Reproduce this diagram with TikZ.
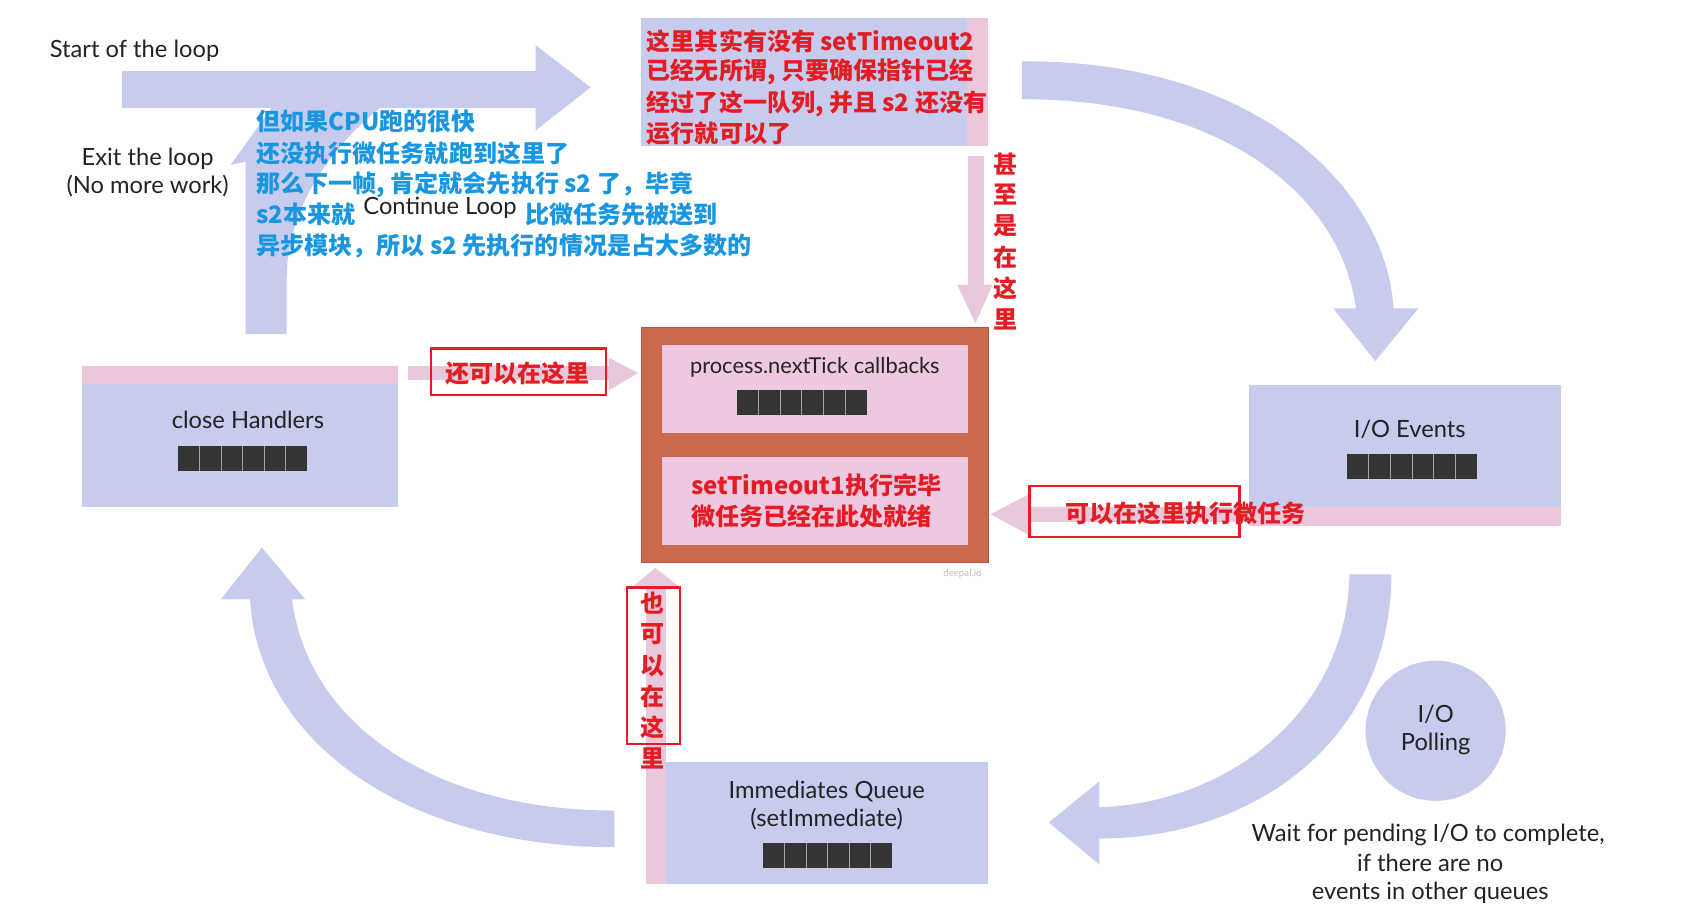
\documentclass[tikz,border=0pt]{standalone}
\usepackage{fontspec}
\setmainfont{Lato}
\newfontfamily\cjk{Noto Sans CJK SC}
\definecolor{lav}{RGB}{199,203,238}
\definecolor{pk}{RGB}{236,198,218}
\definecolor{pka}{RGB}{234,200,220}
\definecolor{orbox}{RGB}{204,104,78}
\definecolor{inpk}{RGB}{238,200,224}
\definecolor{redt}{RGB}{228,28,36}
\definecolor{bluet}{RGB}{25,150,225}
\definecolor{sqc}{RGB}{52,52,52}
\definecolor{txt}{RGB}{35,35,35}
\newcommand\sqrow[2]{%
  \fill[sqc] (#1,#2) rectangle ++(120,23);
  \foreach \i in {1,...,5} \draw[white!55!sqc, line width=0.8pt] (#1+\i*20,#2) -- ++(0,23);}
\begin{document}
\begin{tikzpicture}[x=1pt,y=-1pt,
  lbl/.style={font=\fontsize{22}{26}\selectfont, text=txt, inner sep=0},
  cjkr/.style={font=\cjk\bfseries\fontsize{22.3}{26}\selectfont, text=redt, inner sep=0, anchor=west},
  cjkb/.style={font=\cjk\bfseries\fontsize{22.3}{26}\selectfont, text=bluet, inner sep=0, anchor=west},
  cjkv/.style={font=\cjk\bfseries\fontsize{22.3}{26}\selectfont, text=redt, inner sep=0},
  redbox/.style={draw=redt, line width=2.2pt, inner sep=0},
  lavbox/.style={fill=lav, draw=none, inner sep=0},
  inbox/.style={fill=inpk, draw=none, inner sep=0}]
\useasboundingbox (0,0) rectangle (1568,838);
\fill[white] (0,0) rectangle (1568,838);

% ---- big lavender arrows ----
% continue loop arrow
\fill[lav] (228,310) -- (228,150) -- (214,153) -- (255,96) -- (358,96)
  .. controls (300,140) and (266,200) .. (266,258) -- (266,310) -- cycle;
% top arrow
\fill[lav] (113,66) -- (497,66) -- (497,42) -- (548,81) -- (497,121) -- (497,100) -- (113,100) -- cycle;
% top right curved arrow
\fill[lav] (948,57) .. controls (1160,55) and (1285,170) .. (1293,286) -- (1316,286) -- (1276,335)
  -- (1237,286) -- (1258,286) .. controls (1245,185) and (1140,92) .. (948,92) -- cycle;
% bottom right curved arrow
\fill[lav] (1291,533) .. controls (1290,690) and (1160,778) .. (1020,778) -- (1020,802) -- (973,763)
  -- (1020,725) -- (1020,749) .. controls (1140,745) and (1250,660) .. (1252,533) -- cycle;
% bottom left curved arrow
\fill[lav] (570,786) .. controls (380,786) and (240,690) .. (232,556) -- (205,556) -- (243,508)
  -- (283,556) -- (271,556) .. controls (285,670) and (400,752) .. (570,752) -- cycle;

% ---- boxes ----
\node[lavbox, minimum width=322, minimum height=118] (topbox) at (756,76) {};
\fill[pk] (897,17) rectangle (917,135);
\node[lavbox, minimum width=293, minimum height=130] (close) at (222.5,405) {};
\fill[pk] (76,340) rectangle (369,356);
\node[lavbox, minimum width=289, minimum height=131] (io) at (1303.5,422.5) {};
\fill[pk] (1159,470) rectangle (1448,488);
\node[lavbox, minimum width=317, minimum height=113] (imm) at (758.5,763.5) {};
\node[circle, fill=lav, minimum size=130, inner sep=0] (poll) at (1332,678) {};
\node[fill=orbox, draw=orbox!85!black, line width=0.6pt, minimum width=322, minimum height=218, inner sep=0] (micro) at (756,413) {};
\node[inbox, minimum width=284, minimum height=82] (tick) at (756,361) {};
\node[inbox, minimum width=284, minimum height=82] (st1) at (756,465) {};

% ---- pink arrows ----
\fill[pka] (898,145) rectangle (913,265);
\fill[pka] (888,264) -- (921,264) -- (905,300) -- cycle;
\fill[pka] (379,340) rectangle (565,353);
\fill[pka] (565,332) -- (592,346) -- (565,362) -- cycle;
\fill[pka] (1159,470) rectangle (954,484);
\fill[pka] (954,459) -- (919,477) -- (954,496) -- cycle;
\fill[pka] (599,545) rectangle (618,820);
\fill[pka] (586,545) -- (608,527) -- (631,545) -- cycle;

% ---- squares ----
\sqrow{165}{414}
\sqrow{684}{362}
\sqrow{1250}{421}
\sqrow{708}{782}

% ---- english labels ----
\node[lbl, anchor=west] (start) at (46,47) {Start of the loop};
\node[lbl] (exit1) at (137,147) {Exit the loop};
\node[lbl] (exit2) at (137,173) {(No more work)};
\node[lbl, anchor=west] (cont) at (337,193) {Continue Loop};
\node[lbl] (closet) at (230,390) {close Handlers};
\node[lbl] (iot) at (1308,398) {I/O Events};
\node[lbl, font=\fontsize{20.3}{24}\selectfont] (tickt) at (756,341) {process.nextTick callbacks};
\node[lbl] (imm1) at (767,734) {Immediates Queue};
\node[lbl] (imm2) at (767,760) {(setImmediate)};
\node[lbl] (poll1) at (1332,663) {I/O};
\node[lbl] (poll2) at (1332,690) {Polling};
\node[lbl] (w1) at (1325,775) {Wait for pending I/O to complete,};
\node[lbl] (w2) at (1327,801) {if there are no};
\node[lbl] (w3) at (1327,828) {events in other queues};
\node[font=\fontsize{9}{10}\selectfont, text=black!25, inner sep=0] (deepal) at (893,532) {deepal.io};

% ---- blue annotation ----
\node[cjkb] (b1) at (238,113) {但如果CPU跑的很快};
\node[cjkb] (b2) at (238,142) {还没执行微任务就跑到这里了};
\node[cjkb] (b3) at (238,171) {那么下一帧, 肯定就会先执行 s2 了，毕竟};
\node[cjkb] (b4) at (238,199) {s2本来就};
\node[cjkb] (b4b) at (487,199) {比微任务先被送到};
\node[cjkb] (b5) at (238,228) {异步模块，所以 s2 先执行的情况是占大多数的};

% ---- red annotations ----
\node[cjkr] (r1) at (600,38) {这里其实有没有 setTimeout2};
\node[cjkr] (r2) at (600,67) {已经无所谓, 只要确保指针已经};
\node[cjkr] (r3) at (600,96) {经过了这一队列, 并且 s2 还没有};
\node[cjkr] (r4) at (600,124) {运行就可以了};
\node[cjkr] (s1) at (641,450) {setTimeout1执行完毕};
\node[cjkr] (s2) at (641,479) {微任务已经在此处就绪};
\foreach \c [count=\k from 0] in {甚,至,是,在,这,里}
  \node[cjkv] (v\k) at (933,152+28.8*\k) {\c};
\foreach \c [count=\k from 0] in {也,可,以,在,这,里}
  \node[cjkv] (u\k) at (605,560+28.8*\k) {\c};
\node[redbox, minimum width=162, minimum height=43] (rb1) at (481,345) {};
\node[cjkr] (h1) at (413,346) {还可以在这里};
\node[redbox, minimum width=195, minimum height=47] (rb2) at (1052.5,474.5) {};
\node[cjkr] (h2) at (988,476) {可以在这里执行微任务};
\node[redbox, minimum width=49, minimum height=145] (rb3) at (606.5,617.5) {};
\end{tikzpicture}
\end{document}
